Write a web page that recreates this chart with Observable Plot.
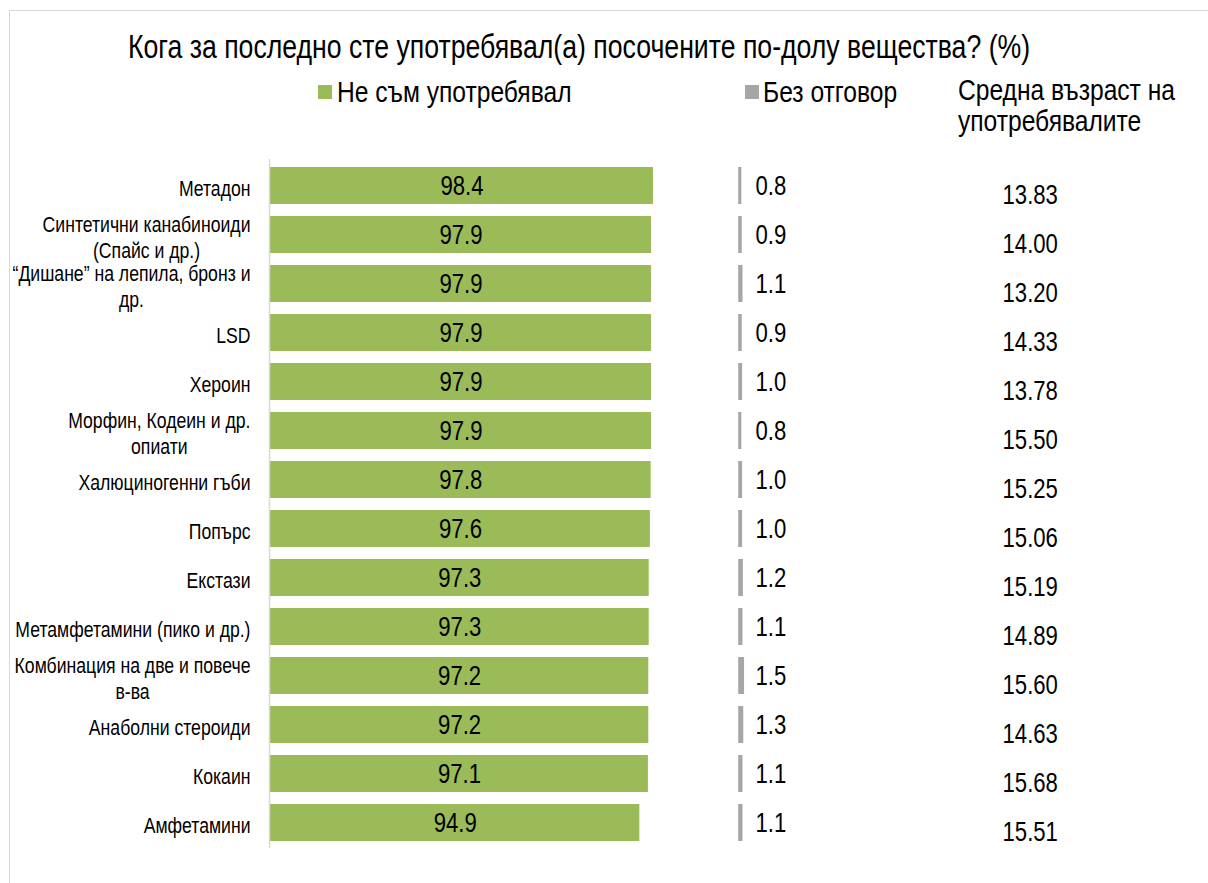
<!DOCTYPE html>
<html><head><meta charset="utf-8">
<script src="https://cdn.jsdelivr.net/npm/d3@7"></script>
<script src="https://cdn.jsdelivr.net/npm/@observablehq/plot@0.6"></script>
<style>
body{margin:0;background:#fff;}
#wrap{position:relative;width:1208px;height:883px;overflow:hidden;font-family:"Liberation Sans",Arial,sans-serif;color:#000;}
#frame{position:absolute;left:9px;top:10px;width:1300px;height:1000px;border:1px solid #d9d9d9;box-sizing:border-box;}
.nar{display:inline-block;white-space:nowrap;transform:scaleX(0.82);transform-origin:0 0;}
#title{position:absolute;left:128px;top:31px;font-size:32.5px;line-height:32.5px;}
.leg{position:absolute;top:77px;font-size:30px;line-height:30px;}
.sw{position:absolute;top:85px;width:14px;height:14px;}
#ageHead{position:absolute;left:958px;top:74px;font-size:30px;line-height:31px;}
#chart{position:absolute;left:0;top:150px;}
</style></head>
<body><div id="wrap">
<div id="frame"></div>
<div id="title"><span class="nar" id="titleText"></span></div>
<div class="sw" style="left:318px;background:#9bbb59"></div>
<div class="leg" style="left:337px"><span class="nar" id="leg1"></span></div>
<div class="sw" style="left:745px;background:#a6a6a6"></div>
<div class="leg" style="left:763px"><span class="nar" id="leg2"></span></div>
<div id="ageHead"><span class="nar" id="ageText"></span></div>
<div id="chart"></div>
</div>
<script>
const titleText = "Кога за последно сте употребявал(а) посочените по-долу вещества? (%)";
const seriesNames = ["Не съм употребявал", "Без отговор"];
const ageHeader = ["Средна възраст на", "употребявалите"];
const categories = [
  "Метадон",
  "Синтетични канабиноиди\n(Спайс и др.)",
  "“Дишане” на лепила, бронз и\nдр.",
  "LSD",
  "Хероин",
  "Морфин, Кодеин и др.\nопиати",
  "Халюциногенни гъби",
  "Попърс",
  "Екстази",
  "Метамфетамини (пико и др.)",
  "Комбинация на две и повече\nв-ва",
  "Анаболни стероиди",
  "Кокаин",
  "Амфетамини"
];
const notUsed = [98.4, 97.9, 97.9, 97.9, 97.9, 97.9, 97.8, 97.6, 97.3, 97.3, 97.2, 97.2, 97.1, 94.9];
const noAnswer = [0.8, 0.9, 1.1, 0.9, 1.0, 0.8, 1.0, 1.0, 1.2, 1.1, 1.5, 1.3, 1.1, 1.1];
const meanAge = ["13.83", "14.00", "13.20", "14.33", "13.78", "15.50", "15.25", "15.06", "15.19", "14.89", "15.60", "14.63", "15.68", "15.51"];

const GREEN = "#9bbb59", GRAY = "#a6a6a6";
const GRAY_START = 120.3;   // where the "Без отговор" column begins (data units)
const GRAY_LABEL = 124.6;
const AGE_X = 195.2;
const NARROW = 0.82;        // horizontal squeeze to mimic a narrow face

document.getElementById("titleText").textContent = titleText;
document.getElementById("leg1").textContent = seriesNames[0];
document.getElementById("leg2").textContent = seriesNames[1];
document.getElementById("ageText").innerHTML = ageHeader.join("<br>");

const rows = categories.map((c, i) => ({cat: c, notUsed: notUsed[i], noAnswer: noAnswer[i], age: meanAge[i]}));

const chart = Plot.plot({
  width: 1208, height: 733,
  marginTop: 9, marginBottom: 35, marginLeft: 270, marginRight: 0,
  style: {fontFamily: '"Liberation Sans", Arial, sans-serif', color: "#000", background: "transparent"},
  x: {domain: [0, 240], range: [270, 270 + 240 * 3.892], axis: null},
  y: {domain: categories, paddingInner: 0.25, paddingOuter: 0.105, axis: null},
  marks: [
    Plot.barX(rows, {x: "notUsed", y: "cat", fill: GREEN}),
    Plot.barX(rows, {x1: () => GRAY_START, x2: d => GRAY_START + d.noAnswer, y: "cat", fill: GRAY}),
    Plot.ruleX([0], {stroke: "#d9d9d9", strokeWidth: 1.5, dx: -1}),
    Plot.text(rows, {x: d => d.notUsed / 2, y: "cat", text: d => d.notUsed.toFixed(1), fontSize: 27}),
    Plot.text(rows, {x: () => GRAY_LABEL, y: "cat", text: d => d.noAnswer.toFixed(1), fontSize: 27, textAnchor: "start"}),
    Plot.text(rows, {x: () => AGE_X, y: "cat", text: "age", fontSize: 27, dy: 9}),
    Plot.text(rows, {x: () => 0, y: "cat", text: "cat", fontSize: 21.5, textAnchor: "end", dx: -20, lineHeight: 1.2, dy: 1.5})
  ]
});
document.getElementById("chart").appendChild(chart);

chart.querySelectorAll("text").forEach(t => {
  // center the lines of multi-line category labels on each other (right edge kept)
  const spans = t.querySelectorAll("tspan");
  if (spans.length > 1) {
    let w = 0;
    spans.forEach(s => { w = Math.max(w, s.getComputedTextLength()); });
    t.setAttribute("text-anchor", "middle");
    spans.forEach(s => s.setAttribute("x", -w / 2));
  }
  const tr = t.getAttribute("transform") || "";
  t.setAttribute("transform", tr + ` scale(${NARROW},1)`);
});
</script>
</body></html>
